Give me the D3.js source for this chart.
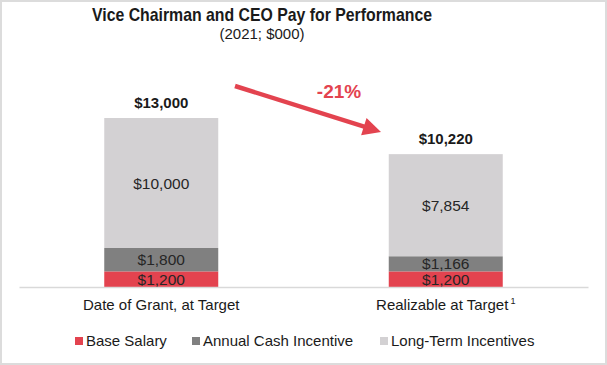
<!DOCTYPE html>
<html><head><meta charset="utf-8">
<script src="https://cdn.jsdelivr.net/npm/d3@7"></script>
<style>
html,body{margin:0;padding:0;background:#fff;}
svg{display:block;font-family:"Liberation Sans",Arial,sans-serif;}
</style></head>
<body>
<svg id="c" width="607" height="365"></svg>
<script>
const categories = ["Date of Grant, at Target", "Realizable at Target"];
const footnotes = ["", "1"];
const baseSalary = [1200, 1200];
const annualCashIncentive = [1800, 1166];
const longTermIncentives = [10000, 7854];
const totals = [13000, 10220];
const changeLabel = "-21%";
const seriesNames = ["Base Salary", "Annual Cash Incentive", "Long-Term Incentives"];
const seriesColors = ["#e3434f", "#808080", "#d3d1d3"];
const title = "Vice Chairman and CEO Pay for Performance";
const subtitle = "(2021; $000)";

const svg = d3.select("#c");
const W = 607, H = 365;
svg.append("rect").attr("x",1).attr("y",1).attr("width",W-2).attr("height",H-2)
  .attr("fill","#fff").attr("stroke","#dcdcdc").attr("stroke-width",2);

const x = d3.scaleBand().domain(categories).range([19, 588]).padding(0);
const barW = 114;
const y = d3.scaleLinear().domain([0, 13000]).range([287, 118]);

const rows = categories.map((c,i)=>({cat:c, "Base Salary":baseSalary[i], "Annual Cash Incentive":annualCashIncentive[i], "Long-Term Incentives":longTermIncentives[i]}));
const stack = d3.stack().keys(seriesNames)(rows);

const g = svg.append("g");
stack.forEach((layer, li) => {
  layer.forEach((d, i) => {
    const cx = x(categories[i]) + x.bandwidth()/2;
    g.append("rect")
      .attr("x", cx - barW/2).attr("width", barW)
      .attr("y", y(d[1])).attr("height", y(d[0]) - y(d[1]))
      .attr("fill", seriesColors[li]);
    g.append("text")
      .attr("x", cx).attr("y", (y(d[0]) + y(d[1]))/2).attr("dy", "0.36em")
      .attr("text-anchor","middle").attr("font-size", 15.5).attr("fill","#262626")
      .text("$" + d3.format(",")(d[1]-d[0]));
  });
});

// axis baseline
const xAxis = d3.axisBottom(x).tickSize(0).tickPadding(0).tickFormat("");
const ax = svg.append("g").attr("transform","translate(0,287)").call(xAxis);
ax.select(".domain").attr("stroke","#d9d9d9").attr("stroke-width",1.5);

// category labels
categories.forEach((c,i)=>{
  const cx = x(c) + x.bandwidth()/2;
  const t = svg.append("text").attr("x", cx).attr("y", 310)
    .attr("text-anchor","middle").attr("font-size",15).attr("fill","#1a1a1a");
  t.append("tspan").text(c);
  if (footnotes[i]) t.append("tspan").attr("font-size",9).attr("dx",2).attr("dy",-6).text(footnotes[i]);
});

// totals
totals.forEach((v,i)=>{
  const cx = x(categories[i]) + x.bandwidth()/2;
  svg.append("text").attr("x",cx).attr("y", y(v) - 10)
    .attr("text-anchor","middle").attr("font-size",15).attr("font-weight","bold").attr("fill","#1a1a1a")
    .text("$" + d3.format(",")(v));
});

// title
svg.append("text").attr("x",262).attr("y",21).attr("text-anchor","middle")
  .attr("font-size",18.5).attr("font-weight","bold").attr("fill","#1a1a1a")
  .attr("textLength",340).attr("lengthAdjust","spacingAndGlyphs").text(title);
svg.append("text").attr("x",262).attr("y",39).attr("text-anchor","middle")
  .attr("font-size",15).attr("fill","#1a1a1a").text(subtitle);

// arrow
const x0 = 235, y0 = 86, x1 = 381, y1 = 132;
const ang = Math.atan2(y1-y0, x1-x0);
const headL = 18, headW = 9;
const bx = x1 - headL*Math.cos(ang), by = y1 - headL*Math.sin(ang);
const red = "#e3434f";
svg.append("line").attr("x1",x0).attr("y1",y0).attr("x2",bx+2*Math.cos(ang)).attr("y2",by+2*Math.sin(ang))
  .attr("stroke",red).attr("stroke-width",4.5);
const px = -Math.sin(ang), py = Math.cos(ang);
svg.append("path").attr("d", `M${x1},${y1}L${bx+px*headW},${by+py*headW}L${bx-px*headW},${by-py*headW}Z`).attr("fill",red);
svg.append("text").attr("x",339).attr("y",98).attr("text-anchor","middle")
  .attr("font-size",19).attr("font-weight","bold").attr("fill",red).text(changeLabel);

// legend
const legX = [75, 192, 380];
seriesNames.forEach((s,i)=>{
  svg.append("rect").attr("x",legX[i]).attr("y",337).attr("width",8).attr("height",8).attr("fill",seriesColors[i]);
  svg.append("text").attr("x",legX[i]+11).attr("y",346).attr("font-size",15).attr("fill","#1a1a1a").text(s);
});
</script>
</body></html>
